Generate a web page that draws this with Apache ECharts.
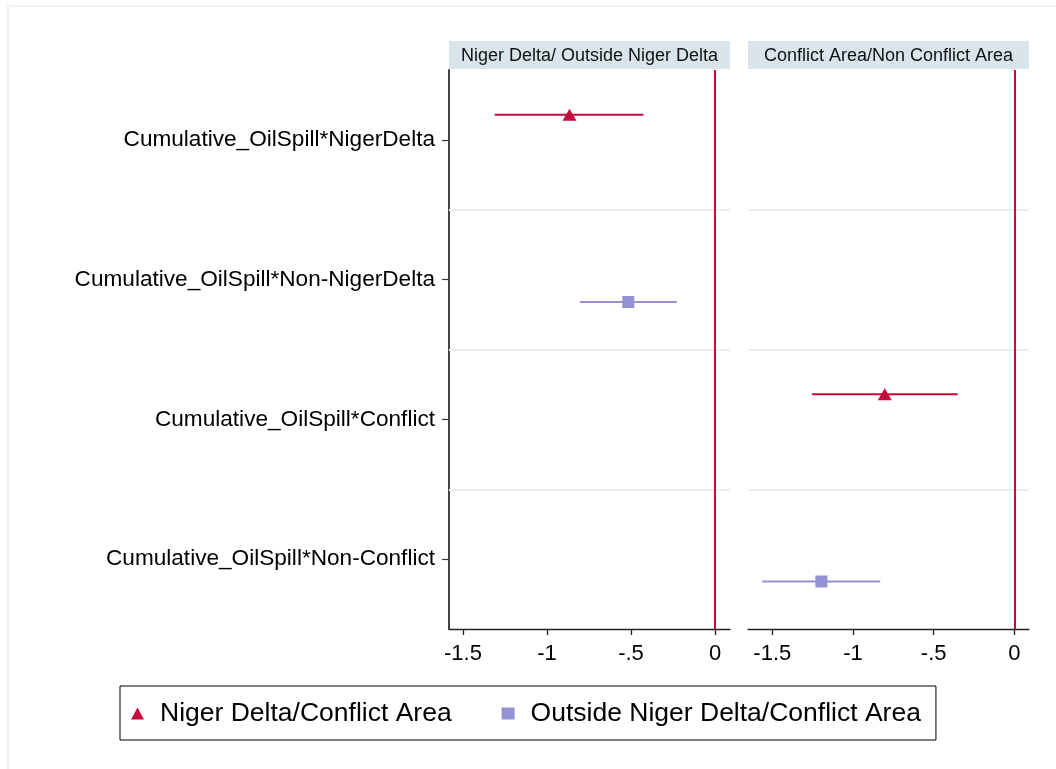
<!DOCTYPE html>
<html>
<head>
<meta charset="utf-8">
<script src="https://cdn.jsdelivr.net/npm/echarts@6/dist/echarts.min.js"></script>
<style>
  html, body { margin: 0; padding: 0; background: #fff; }
  #chart { width: 1056px; height: 769px; }
</style>
</head>
<body>
<div id="chart"></div>
<script>
// Coefficient rows (top to bottom)
const categories = [
  'Cumulative_OilSpill*NigerDelta',
  'Cumulative_OilSpill*Non-NigerDelta',
  'Cumulative_OilSpill*Conflict',
  'Cumulative_OilSpill*Non-Conflict'
];
const panelTitles = ['Niger Delta/ Outside Niger Delta', 'Conflict Area/Non Conflict Area'];
const seriesNames = ['Niger Delta/Conflict Area', 'Outside Niger Delta/Conflict Area'];
const xTicks = [-1.5, -1, -0.5, 0];

// [panel, row, estimate, lower CI, upper CI]
const nigerDeltaConflict = [
  [0, 1, -0.866, -1.311, -0.426],
  [1, 3, -0.803, -1.254, -0.351]
];
const outsideNigerDeltaConflict = [
  [0, 2, -0.516, -0.804, -0.228],
  [1, 4, -1.196, -1.562, -0.831]
];
const rowBoundaries = [1.5, 2.5, 3.5];

const RED = '#c50b3c';
const PURPLE = '#9592d3';
const FONT = 'Liberation Sans, Arial, sans-serif';

// Vertical shift of each group inside its row
const groupOffset = [-0.18, 0.16];

const gridBoxes = [
  { left: 449, top: 70, width: 281, height: 559 },
  { left: 748, top: 70, width: 281, height: 559 }
];
const xRanges = [
  { min: -1.5833, max: 0.0893 },
  { min: -1.6507, max: 0.0911 }
];

const fmtTick = v => {
  if (v === 0) return '0';
  return String(v).replace('0.', '.');
};

const grids = gridBoxes.map(b => Object.assign({ containLabel: false }, b));

const xAxes = xRanges.map((r, i) => ({
  type: 'value',
  gridIndex: i,
  min: r.min,
  max: r.max,
  axisLine: { show: true, onZero: false, lineStyle: { color: '#222', width: 1.3 } },
  axisTick: { show: true, customValues: xTicks, length: 6, lineStyle: { color: '#222', width: 1.3 } },
  axisLabel: { customValues: xTicks, formatter: fmtTick, color: '#000', fontSize: 22, fontFamily: FONT, margin: 14 },
  splitLine: { show: false }
}));

const yAxes = [0, 1].map(i => ({
  type: 'value',
  gridIndex: i,
  min: 0.5,
  max: 4.5,
  inverse: true,
  axisLine: { show: i === 0, onZero: false, lineStyle: { color: '#444', width: 2 } },
  axisTick: { show: i === 0, customValues: [1, 2, 3, 4], length: 7, lineStyle: { color: '#333', width: 1.2 } },
  axisLabel: {
    show: i === 0,
    customValues: [1, 2, 3, 4],
    formatter: v => categories[v - 1],
    color: '#000', fontSize: 22.6, fontFamily: FONT, margin: 14
  },
  splitLine: { show: false }
}));

const series = [];

// Row separators and zero reference line in each panel
[0, 1].forEach(i => {
  series.push({
    type: 'line',
    xAxisIndex: i,
    yAxisIndex: i,
    data: [],
    silent: true,
    markLine: {
      symbol: 'none',
      silent: true,
      label: { show: false },
      emphasis: { disabled: true },
      data: rowBoundaries.map(b => ({ yAxis: b, lineStyle: { color: '#e8eff1', width: 2, type: 'solid' } }))
        .concat([{ xAxis: 0, lineStyle: { color: RED, width: 2, type: 'solid' } }])
    }
  });
});

function addGroup(rows, gIdx, color, symbol, symbolSize) {
  [0, 1].forEach(p => {
    const pts = rows.filter(r => r[0] === p);
    // confidence interval bars
    series.push({
      type: 'custom',
      name: seriesNames[gIdx] + ' CI',
      xAxisIndex: p,
      yAxisIndex: p,
      data: pts.map(r => [r[3], r[4], r[1] + groupOffset[gIdx]]),
      renderItem: (params, api) => {
        const a = api.coord([api.value(0), api.value(2)]);
        const b = api.coord([api.value(1), api.value(2)]);
        return {
          type: 'line',
          shape: { x1: a[0], y1: a[1], x2: b[0], y2: b[1] },
          style: { stroke: color, lineWidth: 2 }
        };
      },
      z: 3
    });
    // point estimates
    series.push({
      type: 'scatter',
      name: seriesNames[gIdx],
      xAxisIndex: p,
      yAxisIndex: p,
      symbol: symbol,
      symbolSize: symbolSize,
      itemStyle: { color: color, opacity: 1 },
      data: pts.map(r => [r[2], r[1] + groupOffset[gIdx]]),
      z: 4
    });
  });
}
addGroup(nigerDeltaConflict, 0, RED, 'triangle', [14, 12]);
addGroup(outsideNigerDeltaConflict, 1, PURPLE, 'rect', 12);

// Panel header strips
const headers = [];
gridBoxes.forEach((b, i) => {
  headers.push({
    type: 'rect',
    shape: { x: b.left, y: 41, width: b.width, height: 28 },
    style: { fill: '#d9e5ea' },
    silent: true
  });
  headers.push({
    type: 'text',
    x: b.left + b.width / 2,
    y: 56,
    style: {
      text: panelTitles[i],
      fill: '#111',
      font: '18px ' + FONT,
      align: 'center',
      verticalAlign: 'middle'
    },
    silent: true
  });
});
// outer frame
headers.push({
  type: 'rect',
  shape: { x: 8, y: 6, width: 1100, height: 800 },
  style: { fill: 'none', stroke: '#eef2f3', lineWidth: 2 },
  silent: true,
  z: -1
});

const chart = echarts.init(document.getElementById('chart'), null, { renderer: 'canvas' });
chart.setOption({
  animation: false,
  backgroundColor: '#fff',
  grid: grids,
  xAxis: xAxes,
  yAxis: yAxes,
  legend: {
    data: [
      { name: seriesNames[0], icon: 'triangle' },
      { name: seriesNames[1], icon: 'rect' }
    ],
    left: 120,
    top: 686,
    orient: 'horizontal',
    itemWidth: 13,
    itemHeight: 12,
    itemGap: 50,
    padding: [14, 15, 13, 11],
    borderColor: '#000',
    borderWidth: 1,
    selectedMode: false,
    textStyle: { fontSize: 26.5, fontFamily: FONT, color: '#000', padding: [0, 0, 0, 11] }
  },
  graphic: headers,
  series: series
});
</script>
</body>
</html>
